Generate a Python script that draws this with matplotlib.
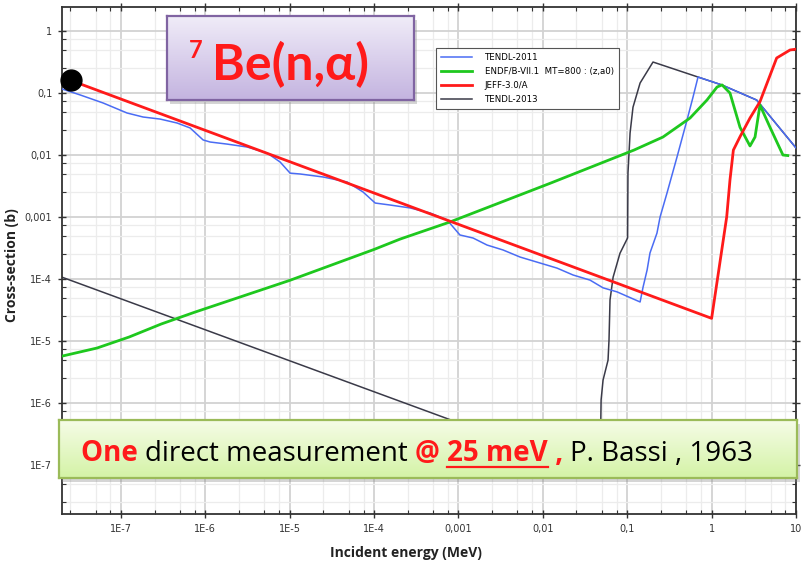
import numpy as np
import matplotlib
matplotlib.use("Agg")
import matplotlib.pyplot as plt
from matplotlib.colors import LinearSegmentedColormap
from matplotlib.lines import Line2D
from matplotlib.ticker import FixedLocator, LogLocator, NullFormatter

W, H = 808, 563

# ---- data (energy in MeV, cross-section in barn) ----
tendl2011_e = [2.01e-8, 3.29e-8, 6.15e-8, 1.18e-7, 1.83e-7, 2.91e-7, 4.63e-7, 6.6e-7,
               9.4e-7, 1.14e-6, 1.81e-6, 3.13e-6, 5.4e-6, 7.7e-6, 1.01e-5, 1.33e-5,
               2.49e-5, 4.79e-5, 7.4e-5, 1.03e-4, 1.55e-4, 2.67e-4, 4.61e-4, 7.33e-4,
               1.04e-3, 1.49e-3, 2.18e-3, 3.37e-3, 5.37e-3, 9.26e-3, 0.0147, 0.0228,
               0.0362, 0.0517, 0.0757, 0.142, 0.154, 0.172, 0.186, 0.225, 0.245, 0.296,
               0.389, 0.511, 0.602, 0.69, 1.32, 3.42, 10.0]
tendl2011_xs = [0.116, 0.093, 0.069, 0.0476, 0.041, 0.038, 0.0328, 0.0273,
                0.0175, 0.0162, 0.0150, 0.01346, 0.01077, 7.7e-3, 5.1e-3, 4.94e-3,
                4.42e-3, 3.67e-3, 2.53e-3, 1.68e-3, 1.56e-3, 1.40e-3, 1.16e-3, 8.95e-4,
                5.13e-4, 4.58e-4, 3.53e-4, 2.94e-4, 2.26e-4, 1.81e-4, 1.50e-4, 1.16e-4,
                9.6e-5, 7.2e-5, 6.2e-5, 4.26e-5, 7.4e-5, 1.40e-4, 2.63e-4, 5.5e-4, 1.0e-3, 2.44e-3,
                9.3e-3, 0.0367, 0.086, 0.181, 0.135, 0.077, 0.013]

endf_e = [2.0e-8, 5.2e-8, 1.25e-7, 3.0e-7, 7.4e-7, 1.0e-5, 1.0e-4, 2.03e-4, 7.9e-4,
          1.22e-2, 0.12, 0.265, 0.555, 0.88, 1.16, 1.33, 1.65, 2.17, 2.85, 3.27,
          3.74, 4.92, 7.0, 8.0]
endf_xs = [5.7e-6, 7.7e-6, 1.16e-5, 1.88e-5, 2.9e-5, 9.5e-5, 3.0e-4, 4.4e-4, 8.3e-4,
           3.5e-3, 0.012, 0.0195, 0.0395, 0.077, 0.125, 0.135, 0.10, 0.028, 0.014, 0.0195,
           0.064, 0.028, 0.0100, 0.0098]

jeff_e = [2.53e-8, 1.0, 1.51, 1.65, 1.81, 2.17, 2.85, 3.74, 5.9, 8.49, 10.0]
jeff_xs = [0.16, 2.32e-5, 1.01e-3, 3.95e-3, 0.012, 0.0197, 0.0395, 0.0724, 0.367, 0.494, 0.51]

tendl2013_e = [2.0e-8, 0.0485, 0.0486, 0.049, 0.0517, 0.0592, 0.0608, 0.0625, 0.068,
               0.082, 0.101, 0.102, 0.108, 0.117, 0.142, 0.202, 0.69, 1.32, 3.42, 10.0]
tendl2013_xs = [1.07e-4, 6.9e-8, 5.3e-7, 1.12e-6, 2.35e-6, 4.9e-6, 1.04e-5, 4.6e-5, 1.07e-4,
                2.6e-4, 4.6e-4, 5.1e-3, 0.0226, 0.059, 0.145, 0.316, 0.181, 0.135, 0.077, 0.013]

bassi_e = [2.53e-8]
bassi_xs = [0.16]

x_ticks = [1e-7, 1e-6, 1e-5, 1e-4, 1e-3, 1e-2, 1e-1, 1, 10]
x_tick_labels = ["1E-7", "1E-6", "1E-5", "1E-4", "0,001", "0,01", "0,1", "1", "10"]
y_ticks = [1e-7, 1e-6, 1e-5, 1e-4, 1e-3, 1e-2, 1e-1, 1]
y_tick_labels = ["1E-7", "1E-6", "1E-5", "1E-4", "0,001", "0,01", "0,1", "1"]

blue = "#4a6cf4"
green = "#1ec81e"
red = "#ff1a1a"
dark = "#3a3a48"
axis_color = "#333333"


def px_rect(x0, y0, x1, y1):
    return [x0 / W, 1 - y1 / H, (x1 - x0) / W, (y1 - y0) / H]


def gradient_box(fig, x0, y0, x1, y1, top, bottom, edge):
    shadow = fig.add_axes(px_rect(x0 + 3, y0 + 4, x1 + 3, y1 + 4))
    shadow.set_facecolor("#888888")
    shadow.patch.set_alpha(0.35)
    shadow.set_xticks([])
    shadow.set_yticks([])
    for s in shadow.spines.values():
        s.set_visible(False)
    box = fig.add_axes(px_rect(x0, y0, x1, y1))
    cmap = LinearSegmentedColormap.from_list("grad", [top, bottom])
    box.imshow(np.linspace(0, 1, 100).reshape(-1, 1), aspect="auto", cmap=cmap,
               extent=[0, 1, 0, 1], origin="upper")
    box.set_xticks([])
    box.set_yticks([])
    for s in box.spines.values():
        s.set_color(edge)
        s.set_linewidth(1.6)
    return box


def main():
    fig = plt.figure(figsize=(W / 100, H / 100), dpi=100)
    fig.patch.set_facecolor("white")
    ax = fig.add_axes(px_rect(62, 7, 796, 514))
    ax.set_xscale("log")
    ax.set_yscale("log")

    (l_black,) = ax.plot(tendl2013_e, tendl2013_xs, color=dark, lw=1.1, zorder=2)
    (l_blue,) = ax.plot(tendl2011_e, tendl2011_xs, color=blue, lw=1.1, zorder=3)
    (l_green,) = ax.plot(endf_e, endf_xs, color=green, lw=2.0, zorder=4)
    (l_red,) = ax.plot(jeff_e, jeff_xs, color=red, lw=2.0, zorder=5)
    ax.plot(bassi_e, bassi_xs, "o", color="black", ms=15, zorder=6, clip_on=False)

    ax.set_xlim(2.0e-8, 10)
    ax.set_ylim(1.62e-8, 2.44)

    ax.xaxis.set_major_locator(FixedLocator(x_ticks))
    ax.xaxis.set_ticklabels(x_tick_labels)
    ax.yaxis.set_major_locator(FixedLocator(y_ticks))
    ax.yaxis.set_ticklabels(y_tick_labels)
    for a in (ax.xaxis, ax.yaxis):
        a.set_minor_locator(LogLocator(base=10, subs=(2.5, 5, 7.5), numticks=30))
        a.set_minor_formatter(NullFormatter())

    ax.grid(which="major", color="#d2d2d2", lw=1.3)
    ax.grid(which="minor", color="#ececec", lw=0.9)
    ax.set_axisbelow(True)
    ax.tick_params(which="major", direction="inout", length=6, width=1, color=axis_color,
                   labelsize=7, labelcolor=axis_color, top=True, right=True, pad=4)
    ax.tick_params(which="minor", direction="in", length=3, width=0.8, color=axis_color,
                   top=True, right=True)
    for s in ax.spines.values():
        s.set_color(axis_color)
        s.set_linewidth(1.3)

    leg = ax.legend([l_blue, l_green, l_red, l_black],
                    ["TENDL-2011", "ENDF/B-VII.1  MT=800 : (z,a0)", "JEFF-3.0/A", "TENDL-2013"],
                    loc="upper left", bbox_to_anchor=(432 / W, 1 - 44 / H),
                    bbox_transform=fig.transFigure, fontsize=6.2, handlelength=3.6,
                    fancybox=False, framealpha=1, edgecolor="#555555",
                    borderpad=0.6, labelspacing=0.55, handletextpad=1.4)
    leg.get_frame().set_linewidth(0.8)

    fig.text(12 / W, 1 - 265 / H, "Cross-section (b)", rotation=90, ha="center", va="center",
             fontsize=10, fontweight="bold", family="Open Sans", color="#222222")
    fig.text(406 / W, 1 - 553 / H, "Incident energy (MeV)", ha="center", va="center",
             fontsize=10, fontweight="bold", family="Open Sans", color="#222222")

    # title box
    gradient_box(fig, 167, 16, 414, 100, "#f0ecf8", "#c4b4e0", "#8064a2")
    renderer = fig.canvas.get_renderer()
    fig.text(212 / W, 1 - 80 / H, "Be(n,\u03b1)", color=red, fontsize=36,
             fontweight="bold", family=["Lato", "DejaVu Sans"], va="baseline")
    fig.text(203 / W, 1 - 58 / H, "7", color=red, fontsize=17, fontweight="bold",
             family=["Lato", "DejaVu Sans"], ha="right", va="baseline")

    # measurement box
    gradient_box(fig, 59, 420, 797, 478, "#f6fce8", "#d4f3a6", "#9bbb59")
    pieces = [
        ("One ", red, "bold", False),
        ("direct measurement ", "black", "normal", False),
        ("@ ", red, "bold", False),
        ("25 meV", red, "bold", True),
        (" , ", red, "bold", False),
        ("P. Bassi , 1963", "black", "normal", False),
    ]
    size = 20
    x = 81
    for text, color, weight, underline in pieces:
        t = fig.text(x / W, 1 - 461 / H, text, color=color, fontsize=size, fontweight=weight,
                     family=["Open Sans", "DejaVu Sans"], va="baseline", ha="left")
        probe = fig.text(0, 0, text + "|", fontsize=size, fontweight=weight,
                         family=["Open Sans", "DejaVu Sans"])
        bar = fig.text(0, 0, "|", fontsize=size, fontweight=weight,
                       family=["Open Sans", "DejaVu Sans"])
        adv = probe.get_window_extent(renderer).width - bar.get_window_extent(renderer).width
        probe.remove()
        bar.remove()
        if underline:
            bb = t.get_window_extent(renderer)
            fig.add_artist(Line2D([bb.x0 / W, bb.x1 / W], [1 - 467 / H, 1 - 467 / H],
                                  color=red, lw=1.6, transform=fig.transFigure))
        x += adv

    fig.savefig("out.png", dpi=100)


if __name__ == "__main__":
    main()
